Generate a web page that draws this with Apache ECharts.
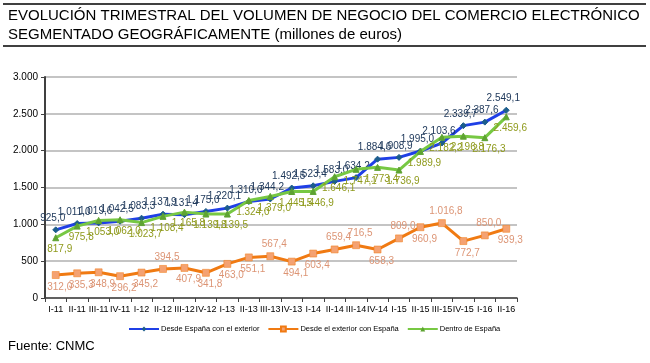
<!DOCTYPE html>
<html><head><meta charset="utf-8">
<script src="https://cdn.jsdelivr.net/npm/echarts@6/dist/echarts.min.js"></script>
<style>html,body{margin:0;padding:0;background:#fff}#c{width:650px;height:363px}</style>
</head><body><div id="c"></div>
<script>
const categories = ['I-11','II-11','III-11','IV-11','I-12','II-12','III-12','IV-12','I-13','II-13','III-13','IV-13','I-14','II-14','III-14','IV-14','I-15','II-15','III-15','IV-15','I-16','II-16'];
const desdeEspana = [925.0, 1011.0, 1019.6, 1042.5, 1083.3, 1137.9, 1131.4, 1175.0, 1220.1, 1310.0, 1344.2, 1492.5, 1523.4, 1583.0, 1634.2, 1884.6, 1908.9, 1995.0, 2103.6, 2339.7, 2387.6, 2549.1];
const desdeExterior = [312.0, 335.3, 348.9, 296.2, 345.2, 394.5, 407.9, 341.8, 463.0, 551.1, 567.4, 494.1, 603.4, 659.4, 716.5, 658.3, 809.0, 960.9, 1016.8, 772.7, 850.0, 939.3];
const dentroEspana = [817.9, 975.8, 1053.0, 1062.0, 1023.7, 1108.4, 1165.8, 1139.8, 1139.5, 1324.0, 1379.0, 1445.5, 1446.9, 1646.1, 1747.1, 1773.4, 1736.9, 1989.9, 2182.2, 2196.8, 2176.3, 2459.6];
const seriesNames = ['Desde España con el exterior', 'Desde el exterior con España', 'Dentro de España'];
const yMax = 3000, yStep = 500;

// label layout (style): orange labels placed above at these indices
const orangeAboveIdx = [5, 10, 13, 14, 16, 18, 20];

const FONT = "'Liberation Sans Narrow','Arial Narrow','Liberation Sans',Arial,sans-serif";
function fmt(v, dec) {
  const s = v.toFixed(dec);
  let [i, d] = s.split('.');
  i = i.replace(/\B(?=(\d{3})+(?!\d))/g, '.');
  return d ? i + ',' + d : i;
}

const chart = echarts.init(document.getElementById('c'), null, {renderer: 'canvas'});
const orangeData = desdeExterior.map((v, i) => ({
  value: v,
  label: orangeAboveIdx.includes(i) ? {position: 'top', offset: [4, 0]} : {position: 'bottom', offset: [4, 0]}
}));

chart.setOption({
  animation: false,
  textStyle: {fontFamily: FONT},
  grid: {left: 45, right: 133, top: 77, bottom: 65, containLabel: false},
  xAxis: {
    type: 'category', data: categories, boundaryGap: true,
    axisLine: {lineStyle: {color: '#404040', width: 1.5}},
    axisTick: {show: true, alignWithLabel: false, length: 4, lineStyle: {color: '#404040'}},
    axisLabel: {interval: 0, color: '#000', fontSize: 9, fontFamily: FONT, margin: 7}
  },
  yAxis: {
    type: 'value', min: 0, max: yMax, interval: yStep,
    axisLine: {show: true, lineStyle: {color: '#404040', width: 2}},
    axisTick: {show: true, length: 4, lineStyle: {color: '#404040'}},
    axisLabel: {color: '#000', fontSize: 10, fontFamily: FONT, margin: 7, formatter: v => fmt(v, 0)},
    splitLine: {lineStyle: {color: '#c4c4c4', width: 2}}
  },
  legend: {
    left: 123, top: 320, itemWidth: 30, itemHeight: 6, itemGap: 8,
    textStyle: {fontSize: 7.5, color: '#000', fontFamily: FONT, padding: [0, 0, 0, -3]},
    data: seriesNames
  },
  series: [
    {
      name: seriesNames[0], type: 'line', data: desdeEspana, z: 3,
      symbol: 'diamond', symbolSize: 6,
      lineStyle: {color: '#1f3fe6', width: 3},
      itemStyle: {color: '#1c5d8c', borderColor: '#1c5d8c'},
      label: {show: true, position: 'top', distance: 3, offset: [-3, 0], color: '#203a5c', fontSize: 10, fontFamily: FONT, formatter: p => fmt(p.value, 1)}
    },
    {
      name: seriesNames[1], type: 'line', data: orangeData, z: 2,
      symbol: 'rect', symbolSize: 7,
      lineStyle: {color: '#f07a12', width: 3},
      itemStyle: {color: '#f4a272', borderColor: '#f07a12', borderWidth: 0.5},
      label: {show: true, distance: 3, color: '#dc9474', fontSize: 10, fontFamily: FONT, formatter: p => fmt(p.value, 1)}
    },
    {
      name: seriesNames[2], type: 'line', data: dentroEspana, z: 4,
      symbol: 'triangle', symbolSize: 6,
      lineStyle: {color: '#77c843', width: 3},
      itemStyle: {color: '#5ea332', borderColor: '#5ea332'},
      label: {show: true, position: 'bottom', distance: 3, offset: [4, 0], color: '#8f9a1c', fontSize: 10, fontFamily: FONT, formatter: p => fmt(p.value, 1)}
    }
  ],
  graphic: [
    {type: 'line', shape: {x1: 3, y1: 4, x2: 646, y2: 4}, style: {stroke: '#000', lineWidth: 1.5}},
    {type: 'line', shape: {x1: 3, y1: 46, x2: 646, y2: 46}, style: {stroke: '#000', lineWidth: 1.5}},
    {type: 'text', left: 8, top: 8, style: {text: 'EVOLUCIÓN TRIMESTRAL DEL VOLUMEN DE NEGOCIO DEL COMERCIO ELECTRÓNICO', font: '15px ' + FONT, fill: '#000'}},
    {type: 'text', left: 8, top: 27, style: {text: 'SEGMENTADO GEOGRÁFICAMENTE (millones de euros)', font: '15px ' + FONT, fill: '#000'}},
    {type: 'text', left: 8, top: 340, style: {text: 'Fuente: CNMC', font: '13px ' + FONT, fill: '#000'}}
  ]
});
</script></body></html>
